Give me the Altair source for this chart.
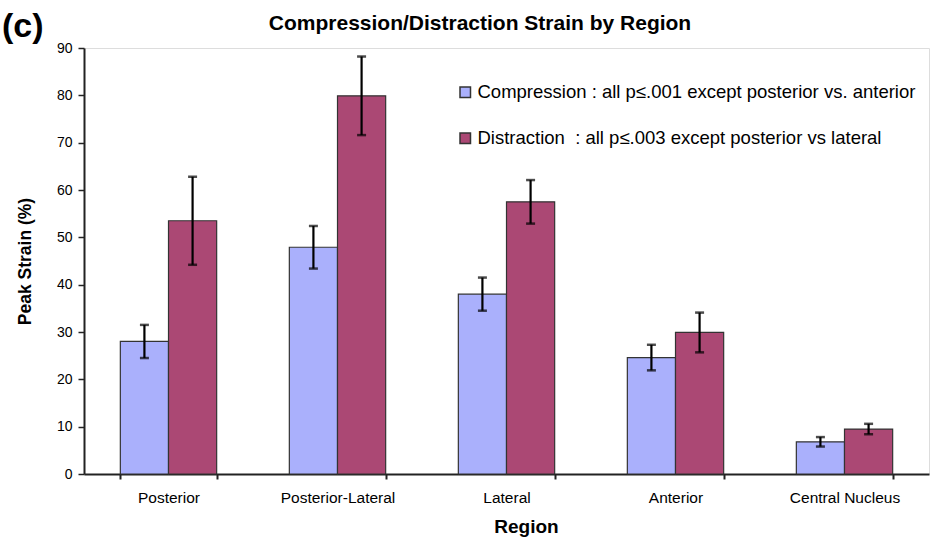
import altair as alt
import pandas as pd

regions = ["Posterior", "Posterior-Lateral", "Lateral", "Anterior", "Central Nucleus"]
compression = [28.0, 47.9, 38.0, 24.6, 6.8]
compression_err = [3.5, 4.5, 3.5, 2.7, 1.0]
distraction = [53.5, 79.9, 57.5, 29.9, 9.5]
distraction_err = [9.3, 8.3, 4.6, 4.2, 1.1]
series = ["Compression", "Distraction"]
legend_labels = {
    "Compression": "Compression : all p\u2264.001 except posterior vs. anterior",
    "Distraction": "Distraction\u00a0\u00a0: all p\u2264.003 except posterior vs lateral",
}
y_ticks = [0, 10, 20, 30, 40, 50, 60, 70, 80, 90]
chart_title = "Compression/Distraction Strain by Region"
panel_label = "(c)"

rows = []
for r, v, e in zip(regions, compression, compression_err):
    rows.append({"Region": r, "Series": "Compression", "value": v, "lo": v - e, "hi": v + e})
for r, v, e in zip(regions, distraction, distraction_err):
    rows.append({"Region": r, "Series": "Distraction", "value": v, "lo": v - e, "hi": v + e})
df = pd.DataFrame(rows)

FONT = "Liberation Sans"

x_enc = alt.X("Region:N", sort=regions,
              scale=alt.Scale(paddingInner=0.43, paddingOuter=0.215),
              axis=alt.Axis(title="Region", labelAngle=0, labelFontSize=15.5, labelPadding=11,
                            labelColor="black", titleFontSize=19, titleFont=FONT,
                            titleFontWeight="bold", titlePadding=12, titleColor="black",
                            titleX=442,
                            domainColor="#222", domainWidth=2, tickColor="#222",
                            tickSize=5, tickWidth=2, tickBand="extent", labelFont=FONT))
xo_enc = alt.XOffset("Series:N", sort=series)

color_enc = alt.Color("Series:N", sort=series,
                      scale=alt.Scale(domain=series, range=["#aab0fc", "#ab4874"]),
                      legend=alt.Legend(title=None, orient="none", legendX=372, legendY=35,
                                        symbolType="square", symbolSize=110,
                                        symbolStrokeColor="#333", symbolStrokeWidth=1.5,
                                        labelFontSize=18.5, labelFont=FONT, labelColor="black",
                                        rowPadding=27, labelOffset=3,
                                        labelLimit=600,
                                        labelExpr="datum.label == 'Compression' ? '" + legend_labels["Compression"] + "' : '" + legend_labels["Distraction"] + "'"))

bars = alt.Chart(df).mark_bar(stroke="#333", strokeWidth=1.2).encode(
    x=x_enc,
    xOffset=xo_enc,
    y=alt.Y("value:Q", scale=alt.Scale(domain=[0, 90], nice=False),
            axis=alt.Axis(title="Peak Strain (%)", values=y_ticks, grid=False,
                          labelFontSize=14, labelFont=FONT, labelColor="black", labelPadding=6,
                          titleFontSize=17.5, titleFont=FONT, titleFontWeight="bold",
                          titleColor="black", titlePadding=22,
                          domainColor="#222", domainWidth=2, tickColor="#222",
                          tickSize=6, tickWidth=1.5)),
    color=color_enc,
)

rules = alt.Chart(df).mark_rule(color="black", strokeWidth=2.2).encode(
    x=alt.X("Region:N", sort=regions),
    xOffset=xo_enc,
    y="lo:Q",
    y2="hi:Q",
)
caps_lo = alt.Chart(df).mark_tick(color="black", thickness=2.5, size=9).encode(
    x=alt.X("Region:N", sort=regions), xOffset=xo_enc, y="lo:Q")
caps_hi = alt.Chart(df).mark_tick(color="black", thickness=2.5, size=9).encode(
    x=alt.X("Region:N", sort=regions), xOffset=xo_enc, y="hi:Q")

label_c = alt.Chart(pd.DataFrame({"t": [panel_label]})).mark_text(
    font=FONT, fontSize=34, fontWeight="bold", align="left", baseline="middle", color="black"
).encode(text="t:N", x=alt.value(-82), y=alt.value(-21))

title_text = alt.Chart(pd.DataFrame({"t": [chart_title]})).mark_text(
    font=FONT, fontSize=21, fontWeight="bold", align="center", baseline="alphabetic",
    color="black"
).encode(text="t:N", x=alt.value(396), y=alt.value(-18))

chart = alt.layer(bars, rules, caps_lo, caps_hi, label_c, title_text).properties(
    width=845, height=426,
    autosize=alt.AutoSizeParams(type="none"),
    padding={"left": 84, "top": 48, "right": 5, "bottom": 70},
).configure_view(stroke=None).configure(background="white")

chart.save("out.html", embed_options={"renderer": "svg", "actions": False})
